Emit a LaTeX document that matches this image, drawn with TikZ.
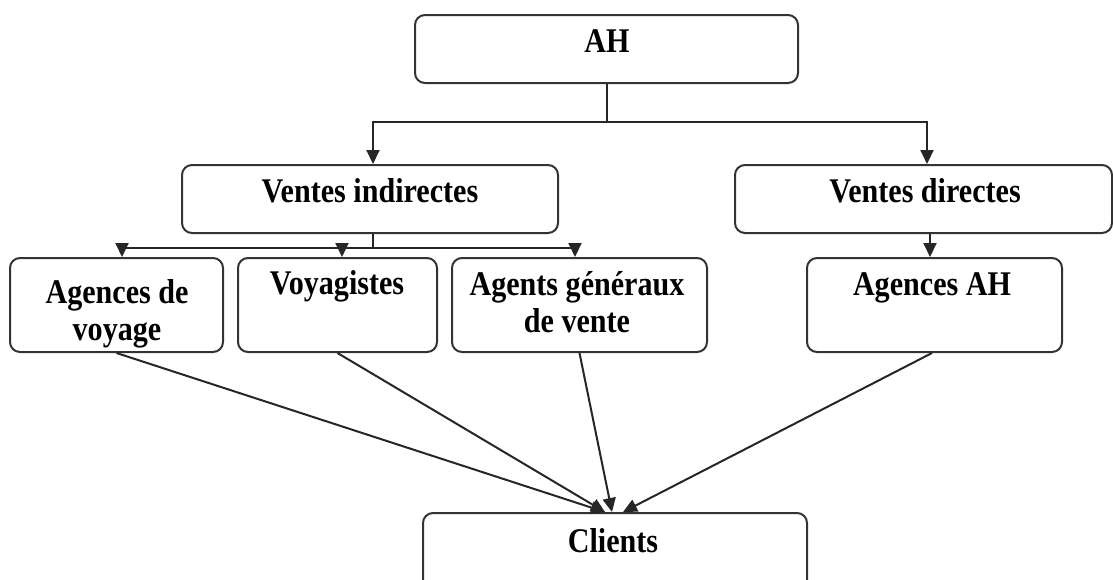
\documentclass[tikz,border=0pt]{standalone}
\usepackage{fontspec}
\setmainfont{Liberation Serif}[FakeStretch=0.87]
\usetikzlibrary{arrows.meta}
\begin{document}
\begin{tikzpicture}[x=0.5pt,y=-0.5pt,
  box/.style={draw=black!80, line width=1pt, rounded corners=5pt, inner sep=0pt},
  lbl/.style={font=\bfseries\fontsize{17.3}{18.5}\selectfont, align=center, inner sep=0pt, anchor=base},
  link/.style={draw=black!85, line width=1pt},
  arr/.style={link, -{Triangle[length=7pt,width=6.5pt]}},
]
\useasboundingbox (0,0) rectangle (1113,579);

% boxes
\node[box, minimum width=191.5pt, minimum height=34pt]   (ah)  at (606.5,49)  {};
\node[box, minimum width=188pt,   minimum height=34pt]   (vi)  at (370,199)   {};
\node[box, minimum width=188.5pt, minimum height=34pt]   (vd)  at (923.5,199) {};
\node[box, minimum width=106.5pt, minimum height=47pt]   (adv) at (116.5,305) {};
\node[box, minimum width=99.5pt,  minimum height=47pt]   (voy) at (337.5,305) {};
\node[box, minimum width=127.5pt, minimum height=47pt]   (agv) at (579.5,305) {};
\node[box, minimum width=127.5pt, minimum height=47pt]   (aah) at (934.5,305) {};
\node[box, minimum width=192pt,   minimum height=43.5pt] (cli) at (615,556.5) {};

% labels (the base anchor of a two-line label sits on its last line)
\node[lbl] (tah)  at (607,52)  {AH};
\node[lbl] (tvi)  at (370,202) {Ventes indirectes};
\node[lbl] (tvd)  at (925,202) {Ventes directes};
\node[lbl] (tadv) at (117,340) {Agences de\\voyage};
\node[lbl] (tvoy) at (337,294) {Voyagistes};
\node[lbl] (tagv) at (577,332) {Agents généraux\\de vente};
\node[lbl] (taah) at (932,295) {Agences AH};
\node[lbl] (tcli) at (613,552) {Clients};

% AH to the two sales channels
\coordinate (j1) at (606.5,122);
\draw[link] (ah.south) -- (j1);
\draw[arr] (j1) -| ([xshift=1.5pt]vi.north);
\draw[arr] (j1) -| ([xshift=1.75pt]vd.north);

% indirect sales branches
\coordinate (j2) at (373,248);
\draw[link] ([xshift=1.5pt]vi.south) -- (j2);
\draw[arr] (j2) -| ([xshift=2.75pt]adv.north);
\draw[arr] (j2) -| ([xshift=2.25pt]voy.north);
\draw[arr] (j2) -| ([xshift=-2.25pt]agv.north);

% direct sales
\draw[arr] ([xshift=-2.25pt]aah.north |- vd.south) -- ([xshift=-2.25pt]aah.north);

% everything reaches the clients
\draw[arr] (adv.south) -- ([xshift=-5pt]cli.north);
\draw[arr] (voy.south) -- ([xshift=-5pt]cli.north);
\draw[arr] (agv.south) -- ([xshift=-1.5pt]cli.north);
\draw[arr] ([xshift=-1.25pt]aah.south) -- ([xshift=4pt]cli.north);
\end{tikzpicture}
\end{document}
